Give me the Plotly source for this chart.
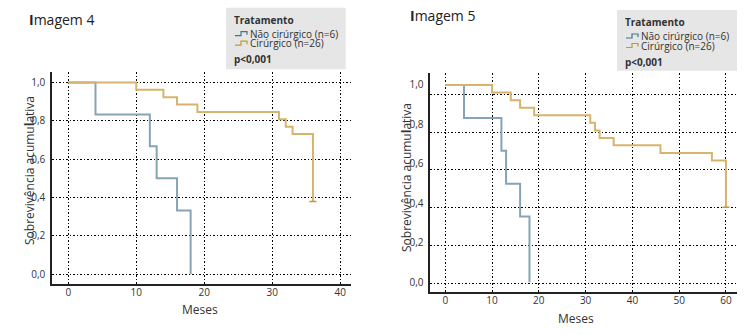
import plotly.graph_objects as go

# ---------------- data ----------------
# Imagem 4
img4_nc_months = [0, 4, 12, 13, 16, 18]
img4_nc_surv = [1.0, 0.833, 0.667, 0.5, 0.333, 0.0]
img4_c_months = [0, 10, 14, 16, 19, 31, 32, 33, 36]
img4_c_surv = [1.0, 0.962, 0.923, 0.885, 0.846, 0.808, 0.769, 0.731, 0.38]

# Imagem 5
img5_nc_months = [0, 4, 12, 13, 16, 18]
img5_nc_surv = [1.0, 0.833, 0.667, 0.5, 0.333, 0.0]
img5_c_months = [0, 10, 14, 16, 19, 31, 32, 33, 36, 46, 57, 60]
img5_c_surv = [1.0, 0.962, 0.923, 0.885, 0.846, 0.808, 0.769, 0.731, 0.694, 0.655, 0.617, 0.38]

img4_xticks = [0, 10, 20, 30, 40]
img5_xticks = [0, 10, 20, 30, 40, 50, 60]
y_ticks = [0.0, 0.2, 0.4, 0.6, 0.8, 1.0]
y_ticklabels = ["0,0", "0,2", "0,4", "0,6", "0,8", "1,0"]

series_names = ["Não cirúrgico (n=6)", "Cirúrgico (n=26)"]
legend_title = "Tratamento"
p_text = "p<0,001"
titles = ["<b>I</b>magem 4", "<b>I</b>magem 5"]
y_title = "Sobrevivência acumu<b>l</b>ativa"
x_title = "Meses"

# ---------------- style ----------------
W, H = 752, 335
FONT = "Open Sans"
BLUE = "#86a4b6"
GOLD = "#d6b46e"
TXT = "#333333"
GRIDDASH = "2px,2px,1px,2px"


def px(x):
    return x / W


def py(y):
    return 1 - y / H


fig = go.Figure()

# traces
fig.add_trace(go.Scatter(x=img4_nc_months, y=img4_nc_surv, mode="lines", line=dict(shape="hv", color=BLUE, width=2),
                         name=series_names[0], xaxis="x", yaxis="y", showlegend=False))
fig.add_trace(go.Scatter(x=img4_c_months, y=img4_c_surv, mode="lines", line=dict(shape="hv", color=GOLD, width=2),
                         name=series_names[1], xaxis="x", yaxis="y", showlegend=False))
fig.add_trace(go.Scatter(x=img4_c_months[-1:], y=img4_c_surv[-1:], mode="markers",
                         marker=dict(symbol="line-ew", size=5, line=dict(color="#c8962e", width=1.5)),
                         xaxis="x", yaxis="y", showlegend=False, hoverinfo="skip"))

fig.add_trace(go.Scatter(x=img5_nc_months, y=img5_nc_surv, mode="lines", line=dict(shape="hv", color=BLUE, width=2),
                         name=series_names[0], xaxis="x2", yaxis="y2", showlegend=False))
fig.add_trace(go.Scatter(x=img5_c_months, y=img5_c_surv, mode="lines", line=dict(shape="hv", color=GOLD, width=2),
                         name=series_names[1], xaxis="x2", yaxis="y2", showlegend=False))
fig.add_trace(go.Scatter(x=img5_c_months[-1:], y=img5_c_surv[-1:], mode="markers",
                         marker=dict(symbol="line-ew", size=5, line=dict(color="#c8962e", width=1.5)),
                         xaxis="x2", yaxis="y2", showlegend=False, hoverinfo="skip"))

axis_common = dict(showline=True, linecolor="#222222", linewidth=1.5, ticks="", zeroline=False,
                   showgrid=True, gridcolor="#000000", gridwidth=1, griddash=GRIDDASH, automargin=False,
                   tickfont=dict(family=FONT, size=10, color=TXT))

# left panel
L_x0, L_x1, L_y0, L_y1 = 52, 351, 71.7, 284
fig.update_layout(
    xaxis=dict(domain=[px(L_x0), px(L_x1)], anchor="y", range=[-2.4, 41.6], tickvals=img4_xticks,
               ticklabelstandoff=-2, **axis_common),
    yaxis=dict(domain=[py(L_y1), py(L_y0)], anchor="x", range=[-0.0506, 1.056], tickvals=y_ticks,
               ticktext=y_ticklabels, ticklabelstandoff=3, **axis_common),
)

# right panel: data axis (labels) + overlay grid axis (grid slightly offset as in the original)
R_x0, R_x1, R_y0, R_y1 = 430.3, 736.7, 73.3, 292
fig.update_layout(
    xaxis2=dict(domain=[px(R_x0), px(R_x1)], anchor="y2", range=[-3.2, 62.3], tickvals=img5_xticks,
                ticklabelstandoff=-2, **axis_common),
    yaxis2=dict(domain=[py(R_y1), py(R_y0)], anchor="x2", range=[-0.049, 1.059], tickvals=y_ticks,
                ticktext=y_ticklabels, ticklabelstandoff=3, automargin=False,
                showline=True, linecolor="#222222", linewidth=1.5, ticks="", zeroline=False,
                showgrid=False, tickfont=dict(family=FONT, size=10, color=TXT)),
    yaxis3=dict(domain=[py(R_y1), py(R_y0)], anchor="x2", overlaying="y2", range=[-0.046, 1.111],
                tickvals=y_ticks, showticklabels=False, showline=False, ticks="", zeroline=False,
                automargin=False, showgrid=True, gridcolor="#000000", gridwidth=1, griddash=GRIDDASH),
)
# dummy trace so the grid axis is drawn
fig.add_trace(go.Scatter(x=[None], y=[None], xaxis="x2", yaxis="y3", showlegend=False, hoverinfo="skip"))

shapes = []
annotations = []

panels = [
    dict(title=titles[0], tx=27, ty=19, box=(226, 7.7, 345.7, 69.3), ytx=29, yty=171, xtx=200, xty=309),
    dict(title=titles[1], tx=408, ty=15, box=(617, 10, 737, 70.7), ytx=406, yty=178, xtx=576, xty=318),
]
for p in panels:
    bx0, by0, bx1, by1 = p["box"]
    shapes.append(dict(type="rect", xref="paper", yref="paper", x0=px(bx0), x1=px(bx1), y0=py(by1), y1=py(by0),
                       fillcolor="#e6e6e6", line=dict(width=0), layer="below"))
    annotations.append(dict(text=p["title"], x=px(p["tx"]), y=py(p["ty"]), xref="paper", yref="paper",
                            xanchor="left", yanchor="middle", showarrow=False,
                            font=dict(family=FONT, size=14, color="#222222")))
    annotations.append(dict(text="<b>" + legend_title + "</b>", x=px(bx0 + 6), y=py(by0 + 12), xref="paper",
                            yref="paper", xanchor="left", yanchor="middle", showarrow=False,
                            font=dict(family=FONT, size=10, color=TXT)))
    for i, (name, col) in enumerate(zip(series_names, ["#3f7490", "#c8962e"])):
        yc = by0 + 26 + i * 9.5
        sx = bx0 + 9
        shapes.append(dict(type="path", xref="paper", yref="paper",
                           path=f"M {px(sx)} {py(yc + 2)} L {px(sx + 6)} {py(yc + 2)} L {px(sx + 6)} {py(yc - 2)} L {px(sx + 12)} {py(yc - 2)} L {px(sx + 12)} {py(yc + 1)}",
                           line=dict(color=col, width=1.2)))
        annotations.append(dict(text=name, x=px(sx + 13), y=py(yc), xref="paper", yref="paper",
                                xanchor="left", yanchor="middle", showarrow=False,
                                font=dict(family=FONT, size=10, color=TXT)))
    annotations.append(dict(text="<b>" + p_text + "</b>", x=px(bx0 + 6), y=py(by0 + 51.5), xref="paper",
                            yref="paper", xanchor="left", yanchor="middle", showarrow=False,
                            font=dict(family=FONT, size=10, color=TXT)))
    annotations.append(dict(text=y_title, x=px(p["ytx"]), y=py(p["yty"]), xref="paper", yref="paper",
                            xanchor="center", yanchor="middle", textangle=-90, showarrow=False,
                            font=dict(family=FONT, size=12, color=TXT)))
    annotations.append(dict(text=x_title, x=px(p["xtx"]), y=py(p["xty"]), xref="paper", yref="paper",
                            xanchor="center", yanchor="middle", showarrow=False,
                            font=dict(family=FONT, size=12, color=TXT)))

fig.update_layout(
    width=W, height=H, margin=dict(l=0, r=0, t=0, b=0),
    paper_bgcolor="white", plot_bgcolor="white",
    shapes=shapes, annotations=annotations, showlegend=False,
    font=dict(family=FONT, color=TXT),
)

fig.write_html("out.html", config={"displayModeBar": False},
               post_script="document.body.style.margin='0';document.body.style.padding='0';")
